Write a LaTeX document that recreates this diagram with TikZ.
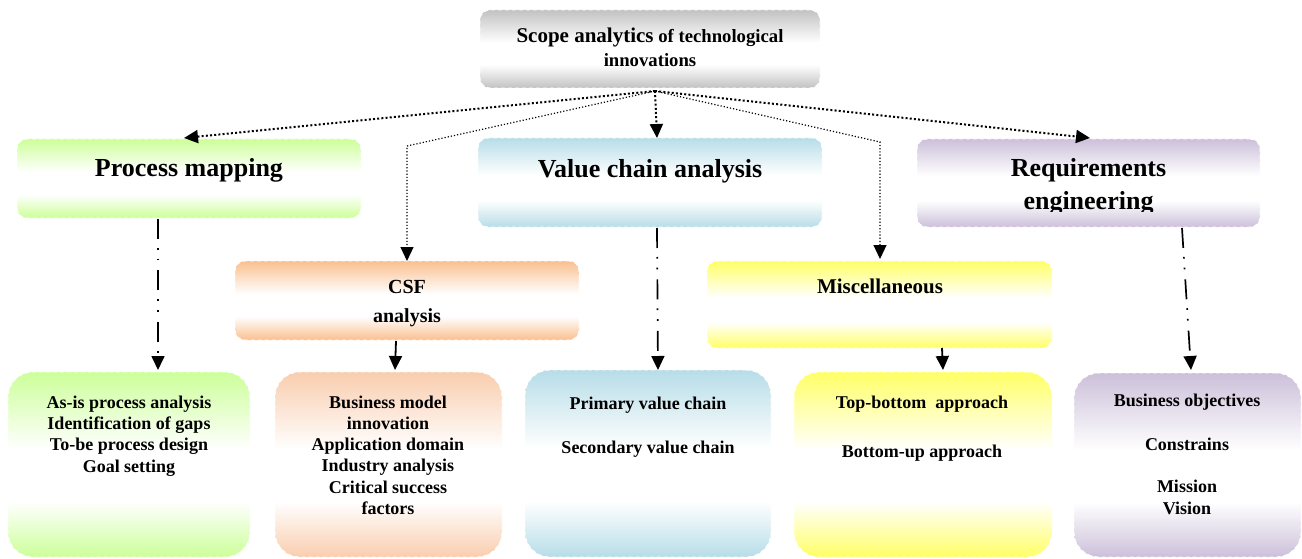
\documentclass[tikz,border=0pt]{standalone}
\usepackage{fontspec}
\setmainfont{Liberation Serif}
\usetikzlibrary{arrows.meta,calc}
\definecolor{cgray}{HTML}{C2C2C2}
\definecolor{cgreen}{HTML}{CCFF99}
\definecolor{cblue}{HTML}{B7DDE8}
\definecolor{cpurple}{HTML}{CCC0DA}
\definecolor{corange}{HTML}{FABF8F}
\definecolor{cpeach}{HTML}{F9CDAE}
\definecolor{cyellow}{HTML}{FFFF66}
\newcommand\mkshade[2]{\pgfdeclareverticalshading{#1}{100bp}{color(0bp)=(#2); color(25bp)=(#2); color(40bp)=(white); color(54bp)=(white); color(75bp)=(#2); color(100bp)=(#2)}}
\mkshade{shgray}{cgray}
\mkshade{shgreen}{cgreen}
\mkshade{shblue}{cblue}
\mkshade{shpurple}{cpurple}
\mkshade{shorange}{corange}
\mkshade{shpeach}{cpeach}
\mkshade{shyellow}{cyellow}
\tikzset{
 box/.style={inner sep=0pt, outer sep=0pt, rounded corners=10pt, shade, shading=sh#1, draw=white, line width=0.8pt, dash pattern=on 4pt off 3pt},
 bigbox/.style={box=#1, rounded corners=25pt},
 head/.style={font=\fontsize{26}{33}\selectfont\bfseries, anchor=base, align=center},
 sub/.style={font=\fontsize{20}{29}\selectfont\bfseries, anchor=base, align=center},
 item/.style={font=\fontsize{18}{21.3}\selectfont\bfseries, anchor=base, align=center},
 tip/.style={-{Triangle[width=13pt,length=14pt]}},
 dots/.style={tip, line width=2pt, dash pattern=on 2pt off 2.2pt},
 thindots/.style={tip, line width=1.2pt, dash pattern=on 1.2pt off 2pt},
 dashdot/.style={tip, line width=1.7pt, dash pattern=on 20pt off 9pt on 1.7pt off 9pt on 1.7pt off 10pt},
 solidarrow/.style={tip, line width=1.8pt},
}
\begin{document}
\begin{tikzpicture}[x=1pt,y=-1pt]
\useasboundingbox (0,0) rectangle (1302,559);
% boxes
\node[box=gray, minimum width=340pt, minimum height=78pt] (top) at (650,49) {};
\node[box=green, minimum width=344pt, minimum height=79pt] (pm) at (189,178.5) {};
\node[box=blue, minimum width=344pt, minimum height=89pt] (vc) at (650,182.5) {};
\node[box=purple, minimum width=343pt, minimum height=88pt] (req) at (1088.5,183) {};
\node[box=orange, minimum width=344pt, minimum height=79pt] (csf) at (407,300.5) {};
\node[box=yellow, minimum width=345pt, minimum height=87pt] (misc) at (879.5,304.5) {};
\node[bigbox=green, minimum width=242pt, minimum height=185pt] (asis) at (129,464.5) {};
\node[bigbox=peach, minimum width=227pt, minimum height=185pt] (csfd) at (388.5,464.5) {};
\node[bigbox=blue, minimum width=246pt, minimum height=187pt] (prim) at (648,463.5) {};
\node[bigbox=yellow, minimum width=258pt, minimum height=185pt] (topb) at (923,464.5) {};
\node[bigbox=purple, minimum width=227pt, minimum height=184pt] (bus) at (1187.5,465) {};
% texts (anchor base = baseline of the last line)
\node[anchor=base, align=center, font=\fontsize{18.7}{24}\selectfont\bfseries] (toptxt) at (650,67)
  {{\fontsize{21}{24}\selectfont Scope analytics} of technological\\ innovations};
\node[head] (pmtxt) at (189,177) {Process mapping};
\node[head] (vctxt) at (650,178) {Value chain analysis};
\begin{scope}
\clip (917,139) rectangle (1260,211.5);
\node[head] (reqtxt) at (1088.5,210) {Requirements\\engineering};
\end{scope}
\node[sub] (csftxt) at (407,322) {CSF\\analysis};
\node[sub, font=\fontsize{21}{29}\selectfont\bfseries] (misctxt) at (880,293) {Miscellaneous};
\node[item] (asistxt) at (129,472) {As-is process analysis\\Identification of gaps\\To-be process design\\Goal setting};
\node[item] (csfdtxt) at (388,514.5) {Business model\\innovation\\Application domain\\Industry analysis\\Critical success\\factors};
\node[item] (primtxt) at (648,453) {Primary value chain\\[22.7pt]Secondary value chain};
\node[item] (topbtxt) at (922,457) {Top-bottom~ approach\\[27.7pt]Bottom-up approach};
\node[item] (bustxt) at (1187,514) {Business objectives\\[22.7pt]Constrains\\[20.7pt]Mission\\Vision};
% connectors
\coordinate (o) at ($(top.south)+(5,3)$);
\coordinate (cb) at (407,146);
\coordinate (mb) at (880,142);
\draw[dots] (o) -- ($(pm.north)+(-5,-1)$);
\draw[dots] (o) -- ($(vc.north)+(7,0)$);
\draw[thindots] (o) -- (cb) -- (csf.north);
\draw[thindots] (o) -- (mb) -- ($(misc.north)+(0.5,-2)$);
\draw[dots] (o) -- ($(req.north)+(1.5,-1)$);
\draw[dashdot] ($(pm.south)+(-31,1)$) -- ($(asis.north)+(29,-2)$);
\draw[dashdot] ($(vc.south)+(7,1)$) -- ($(prim.north)+(10,0)$);
\draw[dashdot] ($(req.south)+(93.5,1)$) -- ($(bus.north)+(3.5,-3)$);
\draw[solidarrow] ($(csf.south)+(-11,1)$) -- ($(csfd.north)+(6.5,-2)$);
\draw[solidarrow] ($(misc.south)+(62.5,0)$) -- ($(topb.north)+(20,-2)$);
\end{tikzpicture}
\end{document}
